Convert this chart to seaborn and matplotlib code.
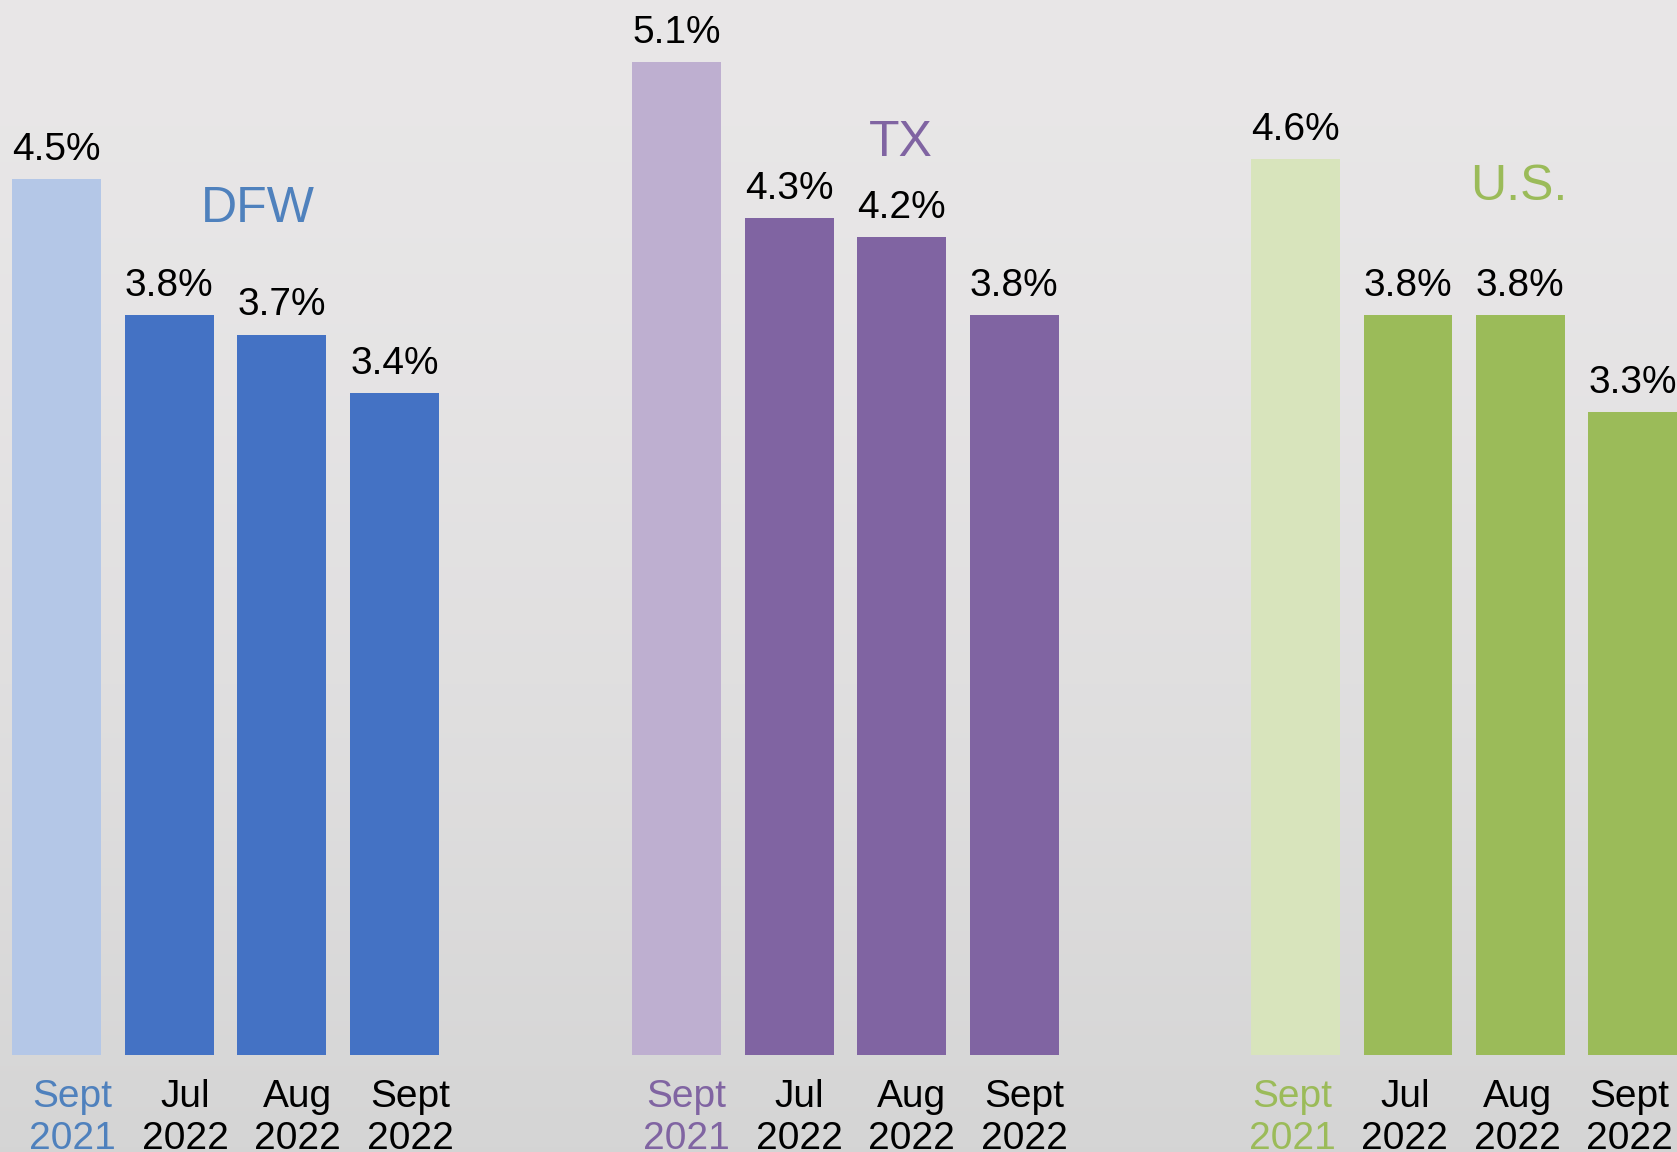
import numpy as np
import pandas as pd
import matplotlib
matplotlib.use("Agg")
import matplotlib.pyplot as plt
import seaborn as sns
from matplotlib.transforms import ScaledTranslation

# data
months = ["Sept\n2021", "Jul\n2022", "Aug\n2022", "Sept\n2022"]
dfw = [4.5, 3.8, 3.7, 3.4]
tx = [5.1, 4.3, 4.2, 3.8]
us = [4.6, 3.8, 3.8, 3.3]

regions = ["DFW", "TX", "U.S."]
values = [dfw, tx, us]
light = ["#B4C7E7", "#BEAFD0", "#D8E4BC"]
dark = ["#4472C4", "#8064A2", "#9BBB59"]
title_col = ["#4F81BD", "#8064A2", "#9BBB59"]

sns.set_theme(style="white")
plt.rcParams["font.family"] = ["Liberation Sans", "DejaVu Sans"]

W, H = 1677, 1152
fig = plt.figure(figsize=(W / 100, H / 100), dpi=100)

# background gradient
bg = fig.add_axes([0, 0, 1, 1], zorder=-10)
g = np.linspace(0, 1, 256)[:, None]
top = np.array([0.912, 0.905, 0.908])
bot = np.array([0.835, 0.835, 0.835])
img = top + (bot - top) * (g ** 1.6)[..., None]
img = np.repeat(img, 2, axis=1)
bg.imshow(img, aspect="auto", extent=[0, 1, 0, 1])
bg.axis("off")

# layout per panel (pixels): first bar centre, pitch, title pos, label shift
base_px = 1055
px_per_pct = 194.7
layout = [
    dict(c0=56.5, pitch=112.6, tx=258, ty=222, dx=16),
    dict(c0=676.5, pitch=112.6, tx=901, ty=156, dx=10),
    dict(c0=1295.5, pitch=112.4, tx=1519, ty=200, dx=-3),
]

for k in range(3):
    lay = layout[k]
    left = lay["c0"] - lay["pitch"] / 2
    width = lay["pitch"] * 4
    ax = fig.add_axes([left / W, (H - base_px) / H, width / W, base_px / H])
    ax.patch.set_alpha(0)
    df = pd.DataFrame({"month": months, "rate": values[k]})
    pal = [light[k]] + [dark[k]] * 3
    sns.barplot(data=df, x="month", y="rate", hue="month", palette=pal,
                width=0.79, legend=False, saturation=1, linewidth=0, ax=ax)
    ax.set_xlim(-0.5, 3.5)
    ax.set_ylim(0, base_px / px_per_pct)
    for c in ax.containers:
        ax.bar_label(c, fmt="%.1f%%", padding=8, fontsize=28, color="black")
    ax.set_xlabel("")
    ax.set_ylabel("")
    ax.set_yticks([])
    ax.set_xticks(range(4))
    ax.set_xticklabels(months, fontsize=28, linespacing=1.22)
    ax.tick_params(axis="x", length=0, pad=17)
    for i, lab in enumerate(ax.get_xticklabels()):
        lab.set_color(title_col[k] if i == 0 else "black")
        lab.set_transform(lab.get_transform()
                          + ScaledTranslation(lay["dx"] / 100, 0, fig.dpi_scale_trans))
    sns.despine(ax=ax, left=True, bottom=True)
    fig.text(lay["tx"] / W, 1 - lay["ty"] / H, regions[k], fontsize=36,
             color=title_col[k], ha="center", va="baseline")

fig.savefig("out.png", dpi=100)
